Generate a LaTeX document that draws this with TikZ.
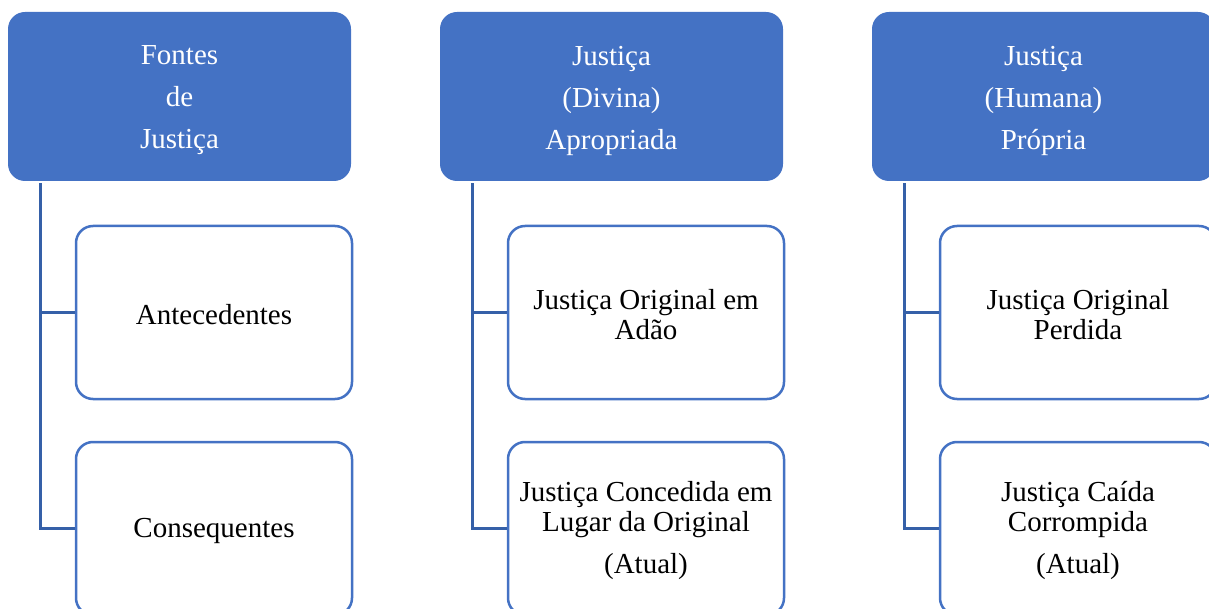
\documentclass[tikz,border=0pt]{standalone}
\usepackage{fontspec}
\setmainfont{Liberation Serif}
\definecolor{accent}{HTML}{4472C4}
\definecolor{connblue}{HTML}{3560A8}
\begin{document}
\begin{tikzpicture}[x=1pt,y=-1pt,
  headbox/.style={fill=accent,draw=none,rounded corners=17pt,minimum width=343pt,minimum height=169pt,inner sep=0pt},
  headtext/.style={text=white,align=center,inner sep=0pt,yshift=-4pt,font=\fontsize{29}{42}\selectfont},
  childbox/.style={fill=white,draw=accent,line width=2.5pt,rounded corners=17pt,minimum width=276pt,minimum height=173pt,inner sep=0pt},
  childtext/.style={text=black,align=center,inner sep=0pt,yshift=-2pt,font=\fontsize{29}{30}\selectfont},
  conn/.style={draw=connblue,line width=2.8pt}]
\useasboundingbox (0,0) rectangle (1209,609);
\clip (0,0) rectangle (1209,609);
% headers
\node[headbox,label={[headtext]center:{Fontes\\de\\Justiça}}] (h1) at (179.5,96.5) {};
\node[headbox,label={[headtext]center:{Justiça\\(Divina)\\Apropriada}}] (h2) at (611.5,96.5) {};
\node[headbox,label={[headtext]center:{Justiça\\(Humana)\\Própria}}] (h3) at (1043.5,96.5) {};
% children
\node[childbox,label={[childtext]center:{Antecedentes}}] (c1a) at (214,312.5) {};
\node[childbox,label={[childtext]center:{Consequentes}}] (c1b) at (214,528.5) {};
\node[childbox,label={[childtext]center:{Justiça Original em\\Adão}}] (c2a) at (646,312.5) {};
\node[childbox,label={[childtext]center:{Justiça Concedida em\\Lugar da Original\\[12pt](Atual)}}] (c2b) at (646,528.5) {};
\node[childbox,label={[childtext]center:{Justiça Original\\Perdida}}] (c3a) at (1078,312.5) {};
\node[childbox,label={[childtext]center:{Justiça Caída\\Corrompida\\[12pt](Atual)}}] (c3b) at (1078,528.5) {};
% connectors
\coordinate (t1) at ([xshift=33pt,yshift=-2pt]h1.south west);
\coordinate (t2) at ([xshift=33pt,yshift=-2pt]h2.south west);
\coordinate (t3) at ([xshift=33pt,yshift=-2pt]h3.south west);
\draw[conn] (t1) |- (c1a.west);
\draw[conn] (t1) |- (c1b.west);
\draw[conn] (t2) |- (c2a.west);
\draw[conn] (t2) |- (c2b.west);
\draw[conn] (t3) |- (c3a.west);
\draw[conn] (t3) |- (c3b.west);
\end{tikzpicture}
\end{document}
